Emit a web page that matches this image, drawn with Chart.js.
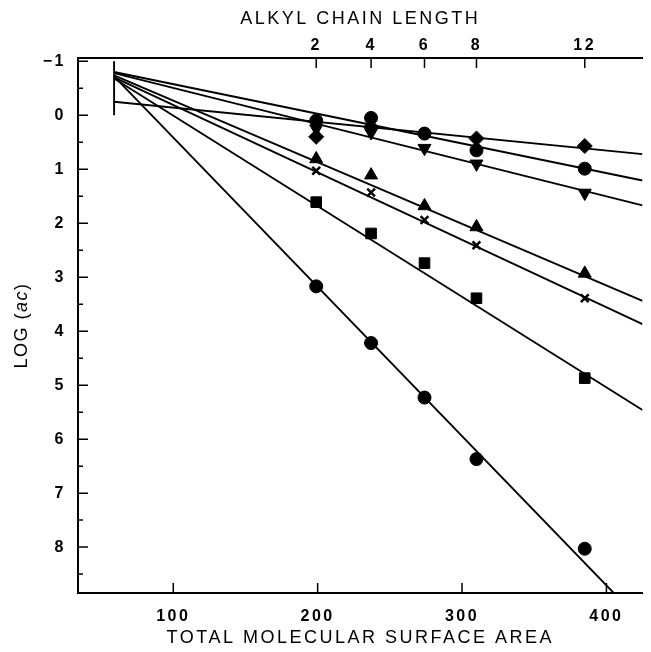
<!DOCTYPE html>
<html>
<head>
<meta charset="utf-8">
<script src="https://cdn.jsdelivr.net/npm/chart.js@4.4.1/dist/chart.umd.min.js"></script>
<style>
  html, body { margin: 0; padding: 0; background: #fff; }
  #wrap { width: 651px; height: 652px; }
</style>
</head>
<body>
<div id="wrap"><canvas id="grafico"></canvas></div>
<script>
// top axis: chain length and the surface area it sits at
const chainLengths = [2, 4, 6, 8, 12];
const chainAreas = [199, 237, 274, 310, 385];
const areaTicks = [100, 200, 300, 400];
const logTicks = [-1, 0, 1, 2, 3, 4, 5, 6, 7, 8];

// LOG(ac) read for each chain length (null = hidden under other marks)
const diamondY  = [0.40, 0.22, null, 0.43, 0.57];
const dotY      = [0.10, 0.05, 0.34, 0.65, 0.99];
const downTriY  = [0.25, 0.32, 0.61, 0.90, 1.44];
const upTriY    = [0.81, 1.11, 1.68, 2.07, 2.93];
const crossY    = [1.03, 1.43, 1.94, 2.41, 3.39];
const squareY   = [1.61, 2.19, 2.74, 3.39, 4.87];
const circleY   = [3.17, 4.22, 5.23, 6.37, 8.03];

// fitted lines: value at area 59 and at area 425
const fitX = [59, 425];
const diamondFit = [-0.25, 0.72];
const dotFit     = [-0.80, 1.21];
const downTriFit = [-0.78, 1.67];
const upTriFit   = [-0.74, 3.44];
const crossFit   = [-0.70, 3.87];
const squareFit  = [-0.68, 5.46];
const circleFit  = [-0.72, 9.40];
const stubY = [-1, 0];

const NEGRO = '#000';

function puntos(ys) {
    return chainAreas.map((x, i) => ({ x: x, y: ys[i] })).filter(p => p.y !== null);
}
function recta(xs, ys) {
    return xs.map((x, i) => ({ x: x, y: ys[i] }));
}
function serieMarcas(ys, estilo, radio, extra) {
    return Object.assign({
        data: puntos(ys),
        showLine: false,
        pointStyle: estilo,
        pointRadius: radio,
        pointBackgroundColor: NEGRO,
        pointBorderColor: NEGRO,
        pointBorderWidth: 1
    }, extra || {});
}
function serieRecta(ys, xs) {
    return {
        data: recta(xs || fitX, ys),
        showLine: true,
        borderColor: NEGRO,
        borderWidth: 1.9,
        pointRadius: 0
    };
}

const marcasEjes = {
    id: 'marcasEjes',
    beforeDraw(chart) {
        chart.ctx.letterSpacing = '2.5px';
    },
    afterDraw(chart) {
        const { ctx, chartArea: a, scales } = chart;
        ctx.save();
        ctx.strokeStyle = NEGRO;
        ctx.lineWidth = 1.5;
        ctx.beginPath();
        logTicks.forEach(v => {
            const y = scales.y.getPixelForValue(v);
            ctx.moveTo(a.left, y); ctx.lineTo(a.left + 10, y);
            if (v + 0.5 < scales.y.max) {
                const m = scales.y.getPixelForValue(v + 0.5);
                ctx.moveTo(a.left, m); ctx.lineTo(a.left + 5, m);
            }
        });
        areaTicks.forEach(v => {
            const x = scales.x.getPixelForValue(v);
            ctx.moveTo(x, a.bottom); ctx.lineTo(x, a.bottom - 10);
        });
        chainAreas.forEach(v => {
            const x = scales.x2.getPixelForValue(v);
            ctx.moveTo(x, a.top); ctx.lineTo(x, a.top + 10);
        });
        ctx.stroke();

        // y title with italic "ac"
        const partes = [['LOG (', 'normal'], ['ac', 'italic'], [')', 'normal']];
        ctx.letterSpacing = '1.5px';
        ctx.fillStyle = NEGRO;
        ctx.textBaseline = 'middle';
        ctx.textAlign = 'left';
        let total = 0;
        partes.forEach(p => {
            ctx.font = p[1] + ' 18px "Liberation Sans", Arial, sans-serif';
            total += ctx.measureText(p[0]).width;
        });
        ctx.translate(22, (a.top + a.bottom) / 2);
        ctx.rotate(-Math.PI / 2);
        let x = -total / 2;
        partes.forEach(p => {
            ctx.font = p[1] + ' 18px "Liberation Sans", Arial, sans-serif';
            ctx.fillText(p[0], x, 0);
            x += ctx.measureText(p[0]).width;
        });
        ctx.restore();
    }
};

const fuenteTicksX = { family: '"Liberation Sans", Arial, sans-serif', size: 16, weight: 'bold' };
const fuenteTicksY = { family: '"Liberation Sans", Arial, sans-serif', size: 16, weight: 'bold' };
const fuenteTitulo = { family: '"Liberation Sans", Arial, sans-serif', size: 18, weight: 'normal' };

new Chart(document.getElementById('grafico'), {
    type: 'scatter',
    data: {
        datasets: [
            serieRecta(stubY, [fitX[0], fitX[0]]),
            serieRecta(diamondFit),
            serieRecta(dotFit),
            serieRecta(downTriFit),
            serieRecta(upTriFit),
            serieRecta(crossFit),
            serieRecta(squareFit),
            serieRecta(circleFit),
            serieMarcas(diamondY, 'rectRot', 7.5),
            serieMarcas(dotY, 'circle', 6.5),
            serieMarcas(downTriY, 'triangle', 7.5, { rotation: 180 }),
            serieMarcas(upTriY, 'triangle', 7.5),
            serieMarcas(crossY, 'crossRot', 5.5, { pointBorderWidth: 2.5 }),
            serieMarcas(squareY, 'rect', 7.5),
            serieMarcas(circleY, 'circle', 6.5)
        ]
    },
    options: {
        responsive: true,
        maintainAspectRatio: false,
        animation: false,
        layout: { padding: 0 },
        plugins: { legend: { display: false }, tooltip: { enabled: false } },
        scales: {
            x: {
                type: 'linear', position: 'bottom', min: 34, max: 425,
                afterBuildTicks: s => { s.ticks = areaTicks.map(v => ({ value: v })); },
                afterFit: s => { s.height = 59; },
                grid: { display: false, drawTicks: false },
                border: { display: true, color: NEGRO, width: 2 },
                ticks: { font: fuenteTicksX, color: NEGRO, padding: 14, maxRotation: 0 },
                title: { display: true, text: 'TOTAL MOLECULAR SURFACE AREA', font: fuenteTitulo, color: NEGRO, padding: { top: 0, bottom: 3 } }
            },
            x2: {
                type: 'linear', position: 'top', min: 34, max: 425,
                afterBuildTicks: s => { s.ticks = chainAreas.map(v => ({ value: v })); },
                afterFit: s => { s.height = 58; },
                grid: { display: false, drawTicks: false },
                border: { display: true, color: NEGRO, width: 2 },
                ticks: { font: fuenteTicksX, color: NEGRO, padding: 3, maxRotation: 0, callback: (v, i) => chainLengths[i] },
                title: { display: true, text: 'ALKYL CHAIN LENGTH', font: fuenteTitulo, color: NEGRO, padding: { top: 8, bottom: 0 } }
            },
            y: {
                type: 'linear', position: 'left', reverse: true, min: -1.06, max: 8.85,
                afterBuildTicks: s => { s.ticks = logTicks.map(v => ({ value: v })); },
                afterFit: s => { s.width = 78; },
                grid: { display: false, drawTicks: false },
                border: { display: true, color: NEGRO, width: 2 },
                ticks: { font: fuenteTicksY, color: NEGRO, padding: 12, callback: v => v < 0 ? '\u2212' + Math.abs(v) : v }
            }
        }
    },
    plugins: [marcasEjes]
});
</script>
</body>
</html>
